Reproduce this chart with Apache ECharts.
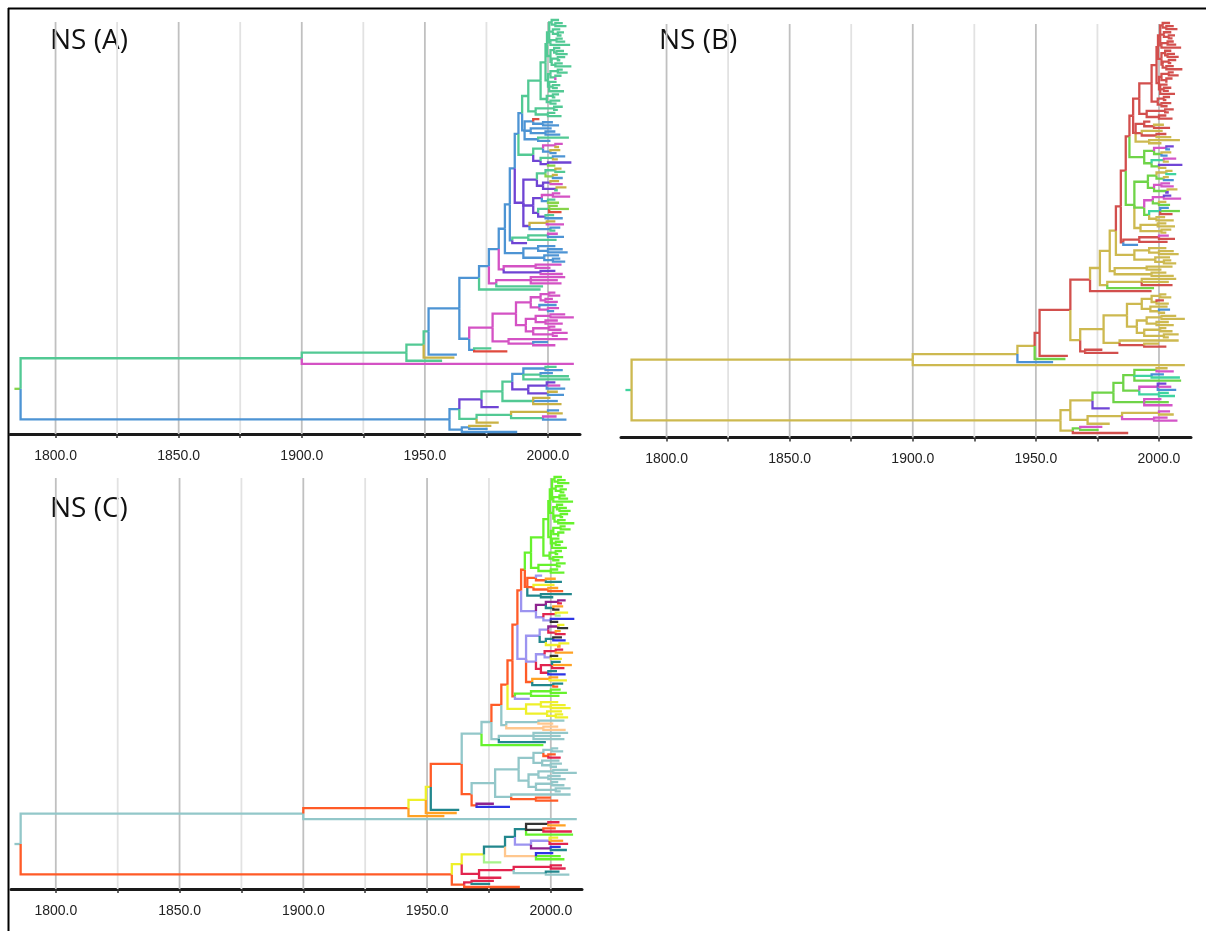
<!DOCTYPE html>
<html><head><meta charset="utf-8">
<script src="https://cdn.jsdelivr.net/npm/echarts@6/dist/echarts.min.js"></script>
<style>html,body{margin:0;padding:0;background:#fff}#c{width:1206px;height:931px}</style>
</head><body><div id="c"></div>
<script>
// ---------------- DATA ----------------
// Axis values
const majorYears = [1800, 1850, 1900, 1950, 2000];
const minorYears = [1825, 1875, 1925, 1975];
const tickYears = [1800, 1825, 1850, 1875, 1900, 1925, 1950, 1975, 2000];
const panelTitles = ['NS (A)', 'NS (B)', 'NS (C)'];
const rootStubYear = 1783.3;

// Time-scaled tree (same topology in all three panels).
// node = [year, traitCodes, ...children]; tip = [year, traitCodes]
// traitCodes: one letter per panel (A, B, C) giving the discrete trait state of the branch.
const G1 = [2000.5,'grl',
  [2001.5,'grl', [2004.5,'grl'], [2003,'grl',[2006,'grl'],[2007.5,'grl']]],
  [2002,'grl', [2005,'grl'], [2004,'grl',[2006.5,'grl'],[2005.5,'grl']]],
  [2001,'grl', [2003.5,'grl',[2006,'grl'],[2007,'grl']], [2009,'grl']]];
const G2 = [2001,'grl',
  [2002.5,'grl', [2005,'grl'], [2003.5,'grl',[2006.5,'grl'],[2008,'grl']]],
  [2001.5,'grl', [2004,'grl',[2007,'grl'],[2005,'grl']], [2003,'grl',[2006,'grl'],[2009.5,'grl']]]];
const G3 = [2000,'grl',
  [2001,'grl', [2004,'grl',[2006,'grl'],[2008,'grl']], [2003,'grl',[2005.5,'grl'],[2002.5,'mrl']]],
  [2000.5,'grl', [2003.5,'grl'], [2002,'grl',[2005,'grl'],[2004,'grl']], [2006.5,'grl']]];
const G4a = [1999.5,'grl', [2002,'grl',[2004.5,'grl'],[2003,'grl']], [2001,'grl',[2005,'grl'],[2003.5,'grl']]];
const G4b = [1995,'grl', [2002.5,'grl',[2006,'grl'],[2004,'grl']], [2000,'grl',[2003,'grl'],[2005.5,'grl']]];
const greenClade = [1992,'grl', [1997,'grl', [1999,'grl', [1999.6,'grl', G1, G2], G3], G4a], G4b];
const blueCluster = [1990.5,'bro',
  [1994,'bro', [1996.5,'rrv'], [1998,'bro',[2002,'byn'],[2004.5,'brt']]],
  [1993,'bro', [2001.5,'byy'], [1999,'bro',[2003,'brn'],[2005,'byo']]],
  [1996,'byt', [2008.5,'gyt'], [2001,'byt']]];
const topNode = [1989.5,'bro', greenClade, blueCluster];
const mixedA = [1994,'ggv',
  [1998,'ggp', [2003,'mmp',[2006,'mpp'],[2004.5,'ybr']], [2001,'bgt',[2005,'yyn'],[2003.5,'bbk']]],
  [1997,'pgv', [2002,'gtr',[2007,'bmy'],[2004,'yye']], [2000,'pgv',[2009.5,'ppb'],[2003,'lyk']]]];
const mixedB = [1990,'pgv',
  [1995.5,'pgv',
    [1999,'ggv', [2003,'gyp',[2005.5,'yyy'],[2007,'gtk']], [2002,'lgr',[2004,'yyn'],[2006,'bbr']]],
    [1998,'pgt', [2001,'pmt',[2004.5,'ymk'],[2006,'mmb']], [2003.5,'pgy',[2007.5,'yyy'],[2002.5,'gpn']]]],
  [1994,'pgv',
    [1997.5,'pmv', [2002,'mmr',[2005,'mpr'],[2009,'mmn']], [2000,'bgv',[2003,'gyk'],[2004.5,'lgy']]],
    [1996,'pgr', [2000.5,'gtr',[2004,'lbt'],[2008.5,'lgn'],[2005.5,'rrr']], [1999,'pyr',[2002.5,'gyt'],[2006,'byb']]]],
  [1992.5,'pyo', [1999.5,'yyn',[2003,'yyn'],[2006.5,'myy']], [2001,'byt',[2005,'byt'],[2003,'gyo']]]];
const clade5 = [1985.5,'bro', [1992,'grl', [2000,'grl',[2004,'mml'],[2006.5,'brl']], [2003.5,'grl']], [1991.5,'pbv']];
const clade4 = [1990,'byy', [1996,'byy', [2003,'byy'], [2000,'byy',[2006,'byy'],[2008,'byy']]],
  [1998.5,'byy', [2004.5,'byy'], [2002,'byy',[2005,'byy'],[2007,'byy']]]];
const clade3 = [1982,'myc', [1995,'myc',[2005.5,'myc'],[2001,'mya']], [1997,'pya',[2003,'pya'],[2006,'mya']]];
const clade2 = [1979,'myc', [1993,'myc',[2007,'myc'],[2004,'myc'],[2005.5,'mrc']], [1998,'ggt']];
const up7 = [1988,'bro', topNode, mixedA];
const up6 = [1986.5,'bro', up7, mixedB];
const up5 = [1984.5,'bro', up6, clade5];
const up4 = [1982.5,'byo', up5, clade4];
const up3 = [1980,'byo', up4, clade3];
const up2 = [1976,'byc', up3, clade2];
const up1 = [1972,'brc', up2, [1997,'grl']];
const magA = [1993,'myc',
  [1997,'myc', [2000.5,'myc',[2003,'myc'],[2005,'myc']], [1999,'myo',[2002,'mro'],[2004,'myr']]],
  [1996.5,'myc', [2003.5,'byc'], [2000,'myc',[2004.5,'mbc'],[2002.5,'byc']]]];
const magB = [1991,'myc',
  [1995,'myc', [2001,'myc',[2007,'myc'],[2010.5,'myc']], [1999,'myc',[2004,'myc'],[2006,'myc']]],
  [1994,'myc', [2000.5,'myc',[2003,'myc'],[2005.5,'myc']], [2002,'myc',[2008,'myc'],[2004,'myc']]]];
const magC = [1984,'myc', [2008,'myc'], [1994,'mro',[2000,'byo'],[2003,'mro']]];
const magClade = [1977.5,'myc', [1987,'myc', magA, magB], magC];
const smallCluster = [1970,'bro', [1977,'grp'], [1983.5,'rrb']];
const magNode = [1968,'byo', magClade, smallCluster];
const n1964 = [1964,'bro', up1, magNode];
const n1952 = [1951.5,'gry', n1964, [1963,'brt']];
const n1950 = [1949.5,'gyy', n1952, [1962,'ygn']];
const n1943 = [1942.5,'gyo', n1950, [1957,'gbn']];
const n1900 = [1900,'gyc', n1943, [2010.5,'myc']];
const gTop = [1990,'bgt',
  [1999,'bgk', [2003.5,'gyr'], [2006,'bmn']],
  [1997,'gtk', [2002,'bbo'], [2008.5,'gtr']],
  [2009,'ggl']];
const gPurple = [1992,'pgv',
  [1999.5,'pmv', [2003,'ppy'], [2005,'mmn'], [2007,'bbr']],
  [2000,'ptp', [2004,'ytb'], [2006.5,'btt']]];
const gLow = [1994,'gga', [2001,'ymb'], [2004,'bgl'], [2005.5,'yml']];
const gl2 = [1985.5,'ggt', gTop, gPurple];
const gl1 = [1981.5,'ggt', gl2, gLow];
const bUp = [1973,'pyy', gl1, [1980,'ppe']];
const bGy = [1971,'gyr',
  [1985,'gyr', [2000,'yyr',[2004.5,'bmr'],[2006,'yyr']], [1998,'gmc',[2003.5,'mmt'],[2007.5,'bmc']]],
  [1980,'yyr']];
const bMid = [1964,'byy', bUp, bGy];
const bLow = [1965,'byo', [1968,'bgr',[1977,'ymr'],[1975.5,'bgt']], [1987.5,'bro']];
const bottomClade = [1960,'byo', bMid, bLow];
const treeRoot = [1785.8,'ltc', n1900, bottomClade];

// ---------------- STYLE ----------------
const palettes = [
  {g:'#52c994', b:'#4d94d4', m:'#d452c4', p:'#6f44d4', l:'#86d44a', y:'#c9b245', r:'#e04a3e'},
  {r:'#d24f4d', y:'#cdb950', g:'#6fd448', b:'#4a90d6', m:'#d455c8', p:'#7046d6', t:'#3fd4a0'},
  {l:'#66f22c', o:'#ff5b27', c:'#93c7c9', y:'#eef02a', v:'#9c94f0', t:'#22878d', r:'#e2244e',
   k:'#333333', a:'#ffc78e', p:'#8e238f', b:'#2d35e4', n:'#ffa224', e:'#a6f38a'}
];
const panels = [
  {grid:{left:10, top:22, width:570, height:412}, tipTop:20, tipBottom:432, xMin:1781.5, xMax:2013, title:[50, 41.5]},
  {grid:{left:621, top:24, width:570, height:413.5}, tipTop:23, tipBottom:433, xMin:1781.5, xMax:2013, title:[659, 41]},
  {grid:{left:11, top:478, width:571, height:411}, tipTop:477, tipBottom:887, xMin:1781.9, xMax:2012.6, title:[50, 509]}
];

// ---------------- LAYOUT (tree -> branch segments) ----------------
function buildSegments(tree) {
  const segs = [];
  let tip = 0;
  function rec(n) {
    const kids = n.slice(2);
    if (!kids.length) return {year:n[0], code:n[1], y:tip++};
    const ch = kids.map(rec);
    const y = (ch[0].y + ch[ch.length - 1].y) / 2;
    ch.forEach(c => segs.push([n[0], y, c.year, c.y, c.code]));
    return {year:n[0], code:n[1], y:y};
  }
  const r = rec(tree);
  segs.push([rootStubYear, r.y, r.year, r.y, r.code]);
  segs.reverse();
  return {segs:segs, nTips:tip};
}
const built = buildSegments(treeRoot);
const segs = built.segs;
const nTips = built.nTips;

const chart = echarts.init(document.getElementById('c'), null, {renderer:'canvas'});
const grids = [], xAxes = [], yAxes = [], series = [], graphics = [];

panels.forEach((P, i) => {
  grids.push(Object.assign({containLabel:false}, P.grid));
  const s = (P.tipBottom - P.tipTop) / (nTips - 1);
  xAxes.push({
    type:'value', gridIndex:i, min:P.xMin, max:P.xMax,
    axisLine:{show:true, onZero:false, lineStyle:{color:'#1a1a1a', width:3}},
    axisTick:{show:true, customValues:tickYears, length:4, lineStyle:{color:'#333', width:1.5}},
    axisLabel:{show:true, customValues:majorYears, formatter:v => Number(v).toFixed(1),
      color:'#222', fontSize:14, fontFamily:'Liberation Sans', margin:15},
    splitLine:{show:false}
  });
  yAxes.push({
    type:'value', gridIndex:i, inverse:true, show:false,
    min:(P.grid.top - P.tipTop) / s, max:(P.grid.top + P.grid.height - P.tipTop) / s
  });
  const gridData = majorYears.map(y => [y, 1]).concat(minorYears.map(y => [y, 0]));
  series.push({
    type:'custom', xAxisIndex:i, yAxisIndex:i, silent:true, z:1,
    data:gridData, encode:{x:0},
    renderItem:(params, api) => {
      const cs = params.coordSys;
      const x = api.coord([api.value(0), 0])[0];
      const major = api.value(1) === 1;
      return {type:'line', shape:{x1:x, y1:cs.y, x2:x, y2:cs.y + cs.height},
        style:{stroke: major ? '#c0c0c0' : '#e2e2e2', lineWidth:1.8}};
    }
  });
  const pal = palettes[i];
  series.push({
    type:'custom', xAxisIndex:i, yAxisIndex:i, silent:true, z:3, clip:false,
    data:segs.map(d => [d[0], d[1], d[2], d[3]]), encode:{x:[0, 2], y:[1, 3]},
    renderItem:(params, api) => {
      const p0 = api.coord([api.value(0), api.value(1)]);
      const p1 = api.coord([api.value(2), api.value(3)]);
      const code = segs[params.dataIndex][4][i];
      return {type:'polyline', shape:{points:[[p0[0], p0[1]], [p0[0], p1[1]], [p1[0], p1[1]]]},
        style:{stroke: pal[code] || '#999', lineWidth:2.3, fill:null, lineJoin:'miter'}};
    }
  });
  graphics.push({type:'text', left:P.title[0], top:P.title[1] - 14, silent:true,
    style:{text:panelTitles[i], fontFamily:'Open Sans', fontSize:28, fill:'#111'}});
});
graphics.push({type:'line', shape:{x1:8, y1:8.5, x2:1206, y2:8.5}, style:{stroke:'#000', lineWidth:2}});
graphics.push({type:'line', shape:{x1:8.5, y1:8, x2:8.5, y2:931}, style:{stroke:'#000', lineWidth:2}});

chart.setOption({
  animation:false, backgroundColor:'#fff',
  grid:grids, xAxis:xAxes, yAxis:yAxes, series:series, graphic:graphics
});
</script></body></html>
